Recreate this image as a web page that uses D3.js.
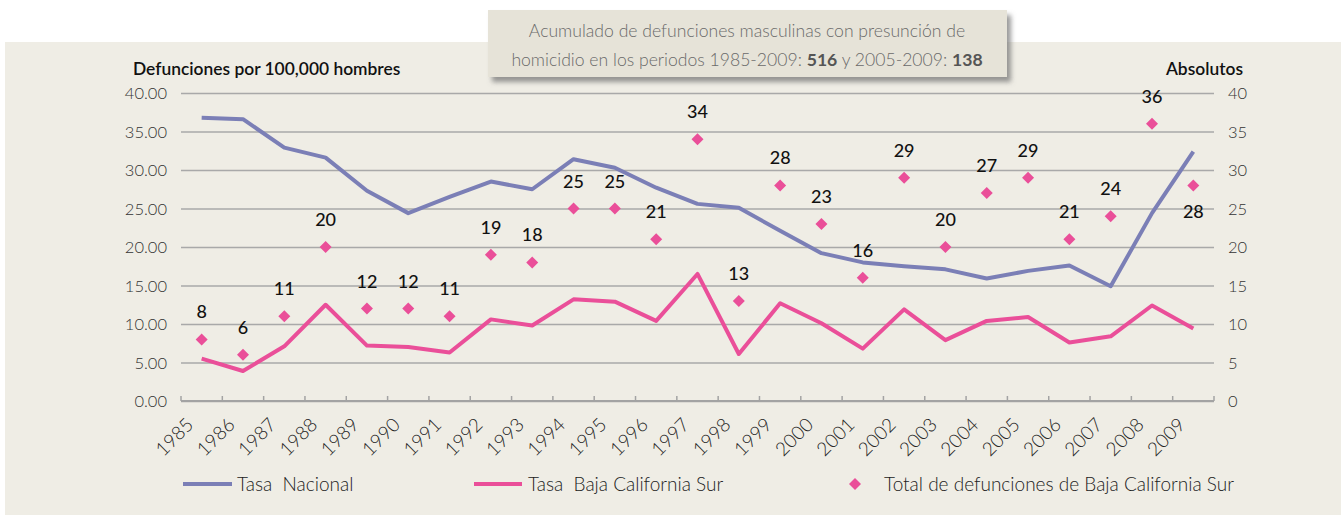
<!DOCTYPE html>
<html>
<head>
<meta charset="utf-8">
<script src="https://cdn.jsdelivr.net/npm/d3@7"></script>
<style>
  body { margin: 0; background: #ffffff; }
  svg text { font-family: Lato, "Open Sans", sans-serif; }
</style>
</head>
<body>
<div id="chart"></div>
<script>
// data
const years = ["1985","1986","1987","1988","1989","1990","1991","1992","1993","1994","1995","1996","1997",
  "1998","1999","2000","2001","2002","2003","2004","2005","2006","2007","2008","2009"];
const tasaNacional = [36.8, 36.6, 32.9, 31.6, 27.3, 24.4, 26.5, 28.5, 27.5, 31.4, 30.3, 27.7, 25.6,
  25.1, 22.1, 19.2, 18.0, 17.5, 17.1, 15.9, 16.9, 17.6, 14.9, 24.4, 32.4];
const tasaBCS = [5.5, 3.9, 7.1, 12.5, 7.2, 7.0, 6.3, 10.6, 9.8, 13.2, 12.9, 10.4, 16.5,
  6.1, 12.7, 10.1, 6.8, 11.9, 7.9, 10.4, 10.9, 7.6, 8.4, 12.4, 9.4];
const totalBCS = [8, 6, 11, 20, 12, 12, 11, 19, 18, 25, 25, 21, 34,
  13, 28, 23, 16, 29, 20, 27, 29, 21, 24, 36, 28];
const leftTicks = [0, 5, 10, 15, 20, 25, 30, 35, 40];
const rightTicks = [0, 5, 10, 15, 20, 25, 30, 35, 40];

const W = 1341, H = 515;
const colNac = "#7b7fb6", colBCS = "#ea4f99";

const svg = d3.select("#chart").append("svg")
  .attr("width", W).attr("height", H);

// drop shadow for the note box
const defs = svg.append("defs");
defs.append("filter").attr("id", "shadow")
  .attr("x", "-5%").attr("y", "-20%").attr("width", "115%").attr("height", "150%")
  .append("feDropShadow")
    .attr("dx", 4).attr("dy", 5).attr("stdDeviation", 2.5)
    .attr("flood-color", "#777").attr("flood-opacity", 0.75);

// panel background
svg.append("rect").attr("x", 5).attr("y", 42).attr("width", W - 5).attr("height", H - 42)
  .attr("fill", "#efede5");

// scales
const x = d3.scaleBand().domain(years).range([181, 1214]).padding(0);
const y = d3.scaleLinear().domain([0, 40]).range([401, 93]);
const y2 = d3.scaleLinear().domain([0, 40]).range([401, 93]);
const cx = d => x(d) + x.bandwidth() / 2;

// gridlines + left axis
svg.append("g")
  .attr("transform", "translate(181,0)")
  .call(d3.axisLeft(y).tickValues(leftTicks).tickFormat(d3.format(".2f")).tickSize(-(1214 - 181)).tickPadding(14))
  .call(g => g.select(".domain").remove())
  .call(g => g.selectAll(".tick line").attr("stroke", "#a9a9a9").attr("stroke-width", 1.5))
  .call(g => g.selectAll(".tick text").attr("fill", "#333").style("font-size", "16.5px").style("font-weight", 300).attr("dy", "0.34em"));

// right axis
svg.append("g")
  .attr("transform", "translate(1214,0)")
  .call(d3.axisRight(y2).tickValues(rightTicks).tickSize(0).tickPadding(14))
  .call(g => g.select(".domain").remove())
  .call(g => g.selectAll(".tick text").attr("fill", "#333").style("font-size", "16.5px").style("font-weight", 300).attr("dy", "0.34em"));

// x axis line and boundary ticks
svg.append("line").attr("x1", 181).attr("x2", 1214).attr("y1", y(0)).attr("y2", y(0))
  .attr("stroke", "#a3a3a3").attr("stroke-width", 2);
const bounds = years.map(d => x(d)).concat([x(years[years.length - 1]) + x.bandwidth()]);
svg.append("g").selectAll("line").data(bounds).join("line")
  .attr("x1", d => d).attr("x2", d => d).attr("y1", y(0) - 5).attr("y2", y(0))
  .attr("stroke", "#a3a3a3").attr("stroke-width", 1.5);

svg.append("g").selectAll("text").data(years).join("text")
  .attr("transform", d => `translate(${cx(d) - 7},426) rotate(-45)`)
  .attr("text-anchor", "end")
  .attr("fill", "#222")
  .style("font-size", "19px").style("font-weight", 300)
  .text(d => d);

// axis titles
svg.append("text").attr("x", 133).attr("y", 75).attr("fill", "#111")
  .style("font-size", "17.4px").style("font-weight", 600)
  .text("Defunciones por 100,000 hombres");
svg.append("text").attr("x", 1243).attr("y", 75).attr("text-anchor", "end").attr("fill", "#111")
  .style("font-size", "17.4px").style("font-weight", 600)
  .text("Absolutos");

// lines
const line = d3.line().x((d, i) => cx(years[i])).y(d => y(d));
svg.append("path").datum(tasaNacional).attr("d", line)
  .attr("fill", "none").attr("stroke", colNac).attr("stroke-width", 4).attr("stroke-linejoin", "round");
svg.append("path").datum(tasaBCS).attr("d", line)
  .attr("fill", "none").attr("stroke", colBCS).attr("stroke-width", 4).attr("stroke-linejoin", "round");

// diamonds + labels
const diamond = "M0,-6L6,0L0,6L-6,0Z";
svg.append("g").selectAll("path").data(totalBCS).join("path")
  .attr("d", diamond)
  .attr("transform", (d, i) => `translate(${cx(years[i])},${y2(d)})`)
  .attr("fill", colBCS);
svg.append("g").selectAll("text").data(totalBCS).join("text")
  .attr("x", (d, i) => cx(years[i]))
  .attr("y", (d, i) => i === years.length - 1 ? y2(d) + 33 : y2(d) - 21)
  .attr("text-anchor", "middle").attr("fill", "#111")
  .style("font-size", "18px").style("font-weight", 500)
  .text(d => d);

// legend
const leg = svg.append("g").style("font-size", "19px").style("font-weight", 300).attr("fill", "#222");
leg.append("line").attr("x1", 183).attr("x2", 232).attr("y1", 484).attr("y2", 484)
  .attr("stroke", colNac).attr("stroke-width", 4);
leg.append("text").attr("x", 237).attr("y", 491).style("white-space", "pre").attr("xml:space", "preserve").text("Tasa  Nacional");
leg.append("line").attr("x1", 474).attr("x2", 522).attr("y1", 484).attr("y2", 484)
  .attr("stroke", colBCS).attr("stroke-width", 4);
leg.append("text").attr("x", 528).attr("y", 491).style("white-space", "pre").attr("xml:space", "preserve").text("Tasa  Baja California Sur");
leg.append("path").attr("d", diamond).attr("transform", "translate(855,484)").attr("fill", colBCS);
leg.append("text").attr("x", 884).attr("y", 491).text("Total de defunciones de Baja California Sur");

// note box
const note = svg.append("g");
note.append("rect").attr("x", 488).attr("y", 10).attr("width", 519).attr("height", 67)
  .attr("fill", "#e6e3d8").attr("filter", "url(#shadow)");
const nt = note.append("g").attr("fill", "#6a6a6a").style("font-size", "17.6px").style("font-weight", 300);
nt.append("text").attr("x", 747).attr("y", 37).attr("text-anchor", "middle")
  .text("Acumulado de defunciones masculinas con presunción de");
const l2 = nt.append("text").attr("x", 747).attr("y", 66).attr("text-anchor", "middle");
l2.append("tspan").text("homicidio en los periodos 1985-2009: ");
l2.append("tspan").attr("font-weight", 700).attr("fill", "#555").text("516");
l2.append("tspan").text(" y 2005-2009: ");
l2.append("tspan").attr("font-weight", 700).attr("fill", "#555").text("138");
</script>
</body>
</html>
